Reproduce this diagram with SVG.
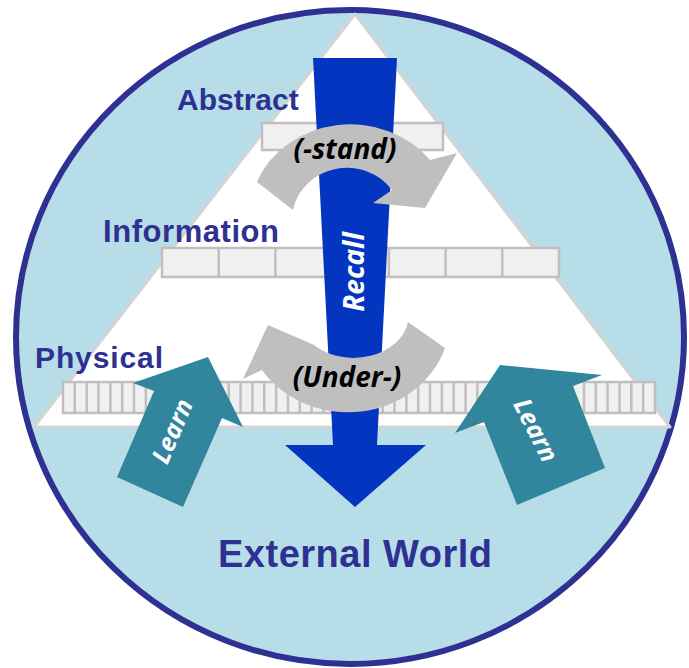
<svg xmlns="http://www.w3.org/2000/svg" width="689" height="668" viewBox="0 0 689 668">
<style>
.lbl{font-family:"Liberation Sans",Arial,sans-serif;font-weight:bold;fill:#2E3192}
.arw{font-family:"Open Sans","Liberation Sans",sans-serif;font-weight:bold;font-style:italic}
.bar{fill:#F0F0F0;stroke:#BFBFBF;stroke-width:2.5}
.div{stroke:#BFBFBF;stroke-width:2.5;fill:none}
.gray{fill:#BFBFBF}
.teal{fill:#31859C}
</style>
<g id="world">
<ellipse cx="350" cy="337" rx="334" ry="327" fill="#B7DEE8" stroke="#2E3192" stroke-width="6"/>
</g>
<g id="pyramid">
<polygon points="355,14 34,427 670,427" fill="#FFFFFF" stroke="#D4D4D4" stroke-width="3" stroke-linejoin="round"/>
</g>
<g id="bar-abstract">
<rect class="bar" x="262" y="123" width="181" height="27"/>
</g>
<g id="bar-information">
<rect class="bar" x="162" y="248" width="397" height="29"/>
<path class="div" d="M218.7 248v29M275.4 248v29M332.1 248v29M388.9 248v29M445.6 248v29M502.3 248v29"/>
</g>
<g id="bar-physical">
<rect class="bar" x="63" y="382" width="592" height="31"/>
<path class="div" d="M74.8 382v31M86.7 382v31M98.5 382v31M110.4 382v31M122.2 382v31M134 382v31M145.9 382v31M157.7 382v31M169.6 382v31M181.4 382v31M193.2 382v31M205.1 382v31M216.9 382v31M228.8 382v31M240.6 382v31M252.4 382v31M264.3 382v31M276.1 382v31M288 382v31M299.8 382v31M311.6 382v31M323.5 382v31M335.3 382v31M347.2 382v31M359 382v31M370.8 382v31M382.7 382v31M394.5 382v31M406.4 382v31M418.2 382v31M430 382v31M441.9 382v31M453.7 382v31M465.6 382v31M477.4 382v31M489.2 382v31M501.1 382v31M512.9 382v31M524.8 382v31M536.6 382v31M548.4 382v31M560.3 382v31M572.1 382v31M584 382v31M595.8 382v31M607.6 382v31M619.5 382v31M631.3 382v31M643.2 382v31"/>
</g>
<g id="label-abstract"><text class="lbl" x="177" y="110" font-size="30">Abstract</text></g>
<g id="label-information"><text class="lbl" x="103" y="242" font-size="31" textLength="176">Information</text></g>
<g id="label-physical"><text class="lbl" x="35" y="368" font-size="30" textLength="128">Physical</text></g>
<g id="label-external"><text class="lbl" x="218" y="567" font-size="38" textLength="274">External World</text></g>
<g id="connectors">
<g id="recall">
<polygon points="313,58 397,58 377,445 426,445 355,507 285,445 333,445" fill="#0335C0"/>
<text class="arw" transform="translate(364,272) rotate(-90)" text-anchor="middle" font-size="28" fill="#FFFFFF">Recall</text>
</g>
<g id="stand">
<path class="gray" d="M257,182 A100 90 0 0 1 430,160 L457,153 L425,208 L373,203 L392,190 A55 52 0 0 0 293,210 Z"/>
<text class="arw" x="345" y="159" text-anchor="middle" font-size="28" fill="#000000">(-stand)</text>
</g>
<g id="under">
<path class="gray" d="M445,348 A102 92 0 0 1 262,370 L243,379 L268,325 L305,341 L314,345 A55 42 0 0 0 408,322 Z"/>
<text class="arw" x="347" y="387" text-anchor="middle" font-size="28" fill="#000000">(Under-)</text>
</g>
<g id="learn-left">
<polygon class="teal" points="117,477 154,391 133,383 208,357 243,427 222,418 183,507"/>
<text class="arw" transform="translate(172,431) rotate(-67)" text-anchor="middle" dy="9" font-size="25" fill="#FFFFFF">Learn</text>
</g>
<g id="learn-right">
<polygon class="teal" points="517,505 484,422 455,433 500,365 602,375 573,386 605,468"/>
<text class="arw" transform="translate(536,430) rotate(63)" text-anchor="middle" dy="9" font-size="25" fill="#FFFFFF">Learn</text>
</g>
</g>
</svg>
